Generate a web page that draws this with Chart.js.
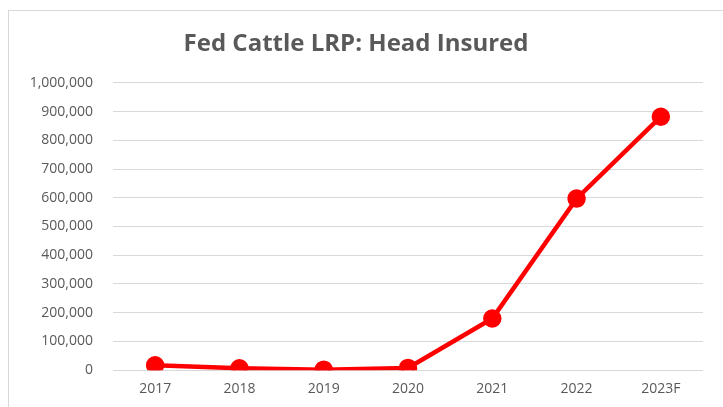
<!DOCTYPE html>
<html lang="en">
<head>
    <meta charset="UTF-8">
    <title>Fed Cattle LRP: Head Insured</title>
    <script src="https://cdn.jsdelivr.net/npm/chart.js"></script>
    <style>
        html, body { margin: 0; padding: 0; background: #fff; }
        #frame {
            position: absolute; left: 8px; top: 10px;
            width: 715px; height: 397px;
            border-left: 1px solid #d9d9d9; border-top: 1px solid #d9d9d9;
        }
    </style>
</head>
<body>
    <div id="frame">
        <canvas id="lrpChart" width="714" height="396"></canvas>
    </div>

    <script>
        // Chart data
        const years = ['2017', '2018', '2019', '2020', '2021', '2022', '2023F'];
        const headInsured = [17000, 7000, 2000, 8000, 180000, 597000, 882000];

        const ctx = document.getElementById('lrpChart').getContext('2d');
        new Chart(ctx, {
            type: 'line',
            data: {
                labels: years,
                datasets: [{
                    label: 'Head Insured',
                    data: headInsured,
                    borderColor: '#ff0000',
                    backgroundColor: '#ff0000',
                    borderWidth: 4.5,
                    pointRadius: 7,
                    pointHoverRadius: 7,
                    tension: 0
                }]
            },
            options: {
                responsive: false,
                animation: false,
                layout: { padding: { left: 0, right: 20, top: 0, bottom: 0 } },
                scales: {
                    x: {
                        offset: true,
                        grid: { display: false, drawTicks: false },
                        border: { display: false },
                        ticks: {
                            color: '#595959',
                            font: { family: 'Open Sans', size: 14 },
                            padding: 10
                        }
                    },
                    y: {
                        min: 0,
                        max: 1000000,
                        afterFit: function(scale) { scale.width = 104; },
                        grid: { color: '#d9d9d9', drawTicks: false },
                        border: { display: false },
                        ticks: {
                            stepSize: 100000,
                            color: '#595959',
                            padding: 20,
                            font: { family: 'Open Sans', size: 14 },
                            callback: function(value) {
                                return value.toLocaleString('en-US');
                            }
                        }
                    }
                },
                plugins: {
                    legend: { display: false },
                    tooltip: { enabled: false },
                    title: {
                        display: true,
                        text: 'Fed Cattle LRP: Head Insured',
                        color: '#595959',
                        font: { family: 'Open Sans', size: 24, weight: 'bold' },
                        padding: { top: 19, bottom: 24 }
                    }
                }
            }
        });
    </script>
</body>
</html>
